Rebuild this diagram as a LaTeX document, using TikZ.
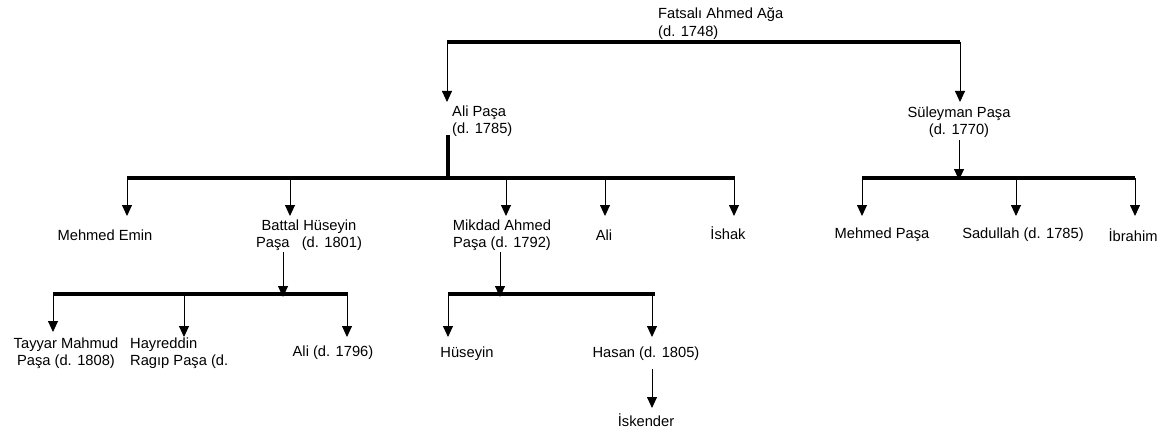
\documentclass[tikz,border=0pt]{standalone}
\usepackage{fontspec}
\setmainfont{Liberation Sans}
\usetikzlibrary{arrows.meta}

\begin{document}
\begin{tikzpicture}[x=1pt, y=-1pt,
  person/.style={inner sep=0pt, align=center, font=\fontsize{14.7}{17.3}\selectfont},
  personl/.style={person, align=left, anchor=west},
  bar/.style={line width=3.2pt},
  arr/.style={-{Triangle[length=11pt,width=10pt]}, line width=0.9pt},
]
\useasboundingbox (0,0) rectangle (1164,433);

% Rows where the arrow tips end
\coordinate (row2) at (0,102);
\coordinate (row3) at (0,216);
\coordinate (row4a) at (0,332);
\coordinate (row4b) at (0,337);

% Fatsali Ahmed Aga
\node[personl] (fatsali) at (658,23.5) {Fatsalı Ahmed Ağa\\(d. 1748)};
\coordinate (topl) at (447,42);
\coordinate (topr) at (960,42);
\draw[bar] (topl) -- (topr);

% His sons
\node[personl] (alipasa) at (452,121.5) {Ali Paşa\\(d. 1785)};
\node[person] (suleyman) at (959,122) {Süleyman Paşa\\(d. 1770)};
\draw[arr] (topl) -- (topl |- row2);
\draw[arr] (topr) -- (topr |- row2);

% Ali Pasa's line
\coordinate (alibarc) at (448,178);
\coordinate (alibarl) at (127,178);
\coordinate (alibarr) at (735,178);
\draw[bar] ([yshift=2pt]alipasa.south west -| alibarc) -- (alibarc);
\draw[bar] (alibarl) -- (alibarr);

\node[person] (mehmedemin) at (105,235) {Mehmed Emin};
\node[person] (battal) at (309,235.5) {Battal Hüseyin\\Paşa\ \ \ (d. 1801)};
\node[person] (mikdad) at (502,235.5) {Mikdad Ahmed\\Paşa (d. 1792)};
\node[person] (ali) at (604,235) {Ali};
\node[person] (ishak) at (728,233) {İshak};

\coordinate (a1) at (127,178);
\coordinate (a2) at (290,178);
\coordinate (a3) at (506,178);
\coordinate (a4) at (605,178);
\coordinate (a5) at (734,178);
\foreach \c in {a1,a2,a3,a4,a5}
  \draw[arr] (\c) -- (\c |- row3);

% Suleyman Pasa's line
\coordinate (sulbarc) at (959,178);
\coordinate (sulbarl) at (862,178);
\coordinate (sulbarr) at (1135,178);
\draw[arr] ([yshift=-2pt]suleyman.south -| sulbarc) -- ([yshift=-2pt]sulbarc);
\draw[bar] (sulbarl) -- (sulbarr);

\node[person] (mehmedpasa) at (882,235) {Mehmed Paşa};
\node[person] (sadullah) at (1023,235) {Sadullah (d. 1785)};
\node[person] (ibrahim) at (1133,235) {İbrahim};

\coordinate (s1) at (862,178);
\coordinate (s2) at (1016,178);
\coordinate (s3) at (1135,178);
\foreach \c in {s1,s2,s3}
  \draw[arr] (\c) -- (\c |- row3);

% Battal Huseyin Pasa's sons
\coordinate (batbarc) at (283,294);
\coordinate (batbarl) at (53,294);
\coordinate (batbarr) at (348,294);
\draw[arr] ([yshift=-1pt]battal.south -| batbarc) -- ([yshift=-3pt]batbarc);
\draw[bar] (batbarl) -- (batbarr);

\node[person] (tayyar) at (66,353.5) {Tayyar Mahmud\\Paşa (d. 1808)};
\node[personl] (hayreddin) at (130,353.5) {Hayreddin\\Ragıp Paşa (d.};
\node[person] (ali2) at (333,353) {Ali (d. 1796)};

\coordinate (b1) at (53,294);
\coordinate (b2) at (184,294);
\coordinate (b3) at (347,294);
\foreach \c/\r in {b1/row4a,b2/row4b,b3/row4b}
  \draw[arr] (\c) -- (\c |- \r);

% Mikdad Ahmed Pasa's sons
\coordinate (mikbarc) at (500,294);
\coordinate (mikbarl) at (448,294);
\coordinate (mikbarr) at (655,294);
\draw[arr] ([yshift=-1pt]mikdad.south -| mikbarc) -- ([yshift=-3pt]mikbarc);
\draw[bar] (mikbarl) -- (mikbarr);

\node[person] (huseyin) at (467,354) {Hüseyin};
\node[person] (hasan) at (646,354) {Hasan (d. 1805)};

\coordinate (m1) at (448,294);
\coordinate (m2) at (652,294);
\foreach \c in {m1,m2}
  \draw[arr] (\c) -- (\c |- row4b);

% Hasan's son
\node[person] (iskender) at (646,420) {İskender};
\coordinate (h1) at (652,408);
\draw[arr] ([yshift=-8pt]hasan.south -| h1) -- (h1);

\end{tikzpicture}
\end{document}
